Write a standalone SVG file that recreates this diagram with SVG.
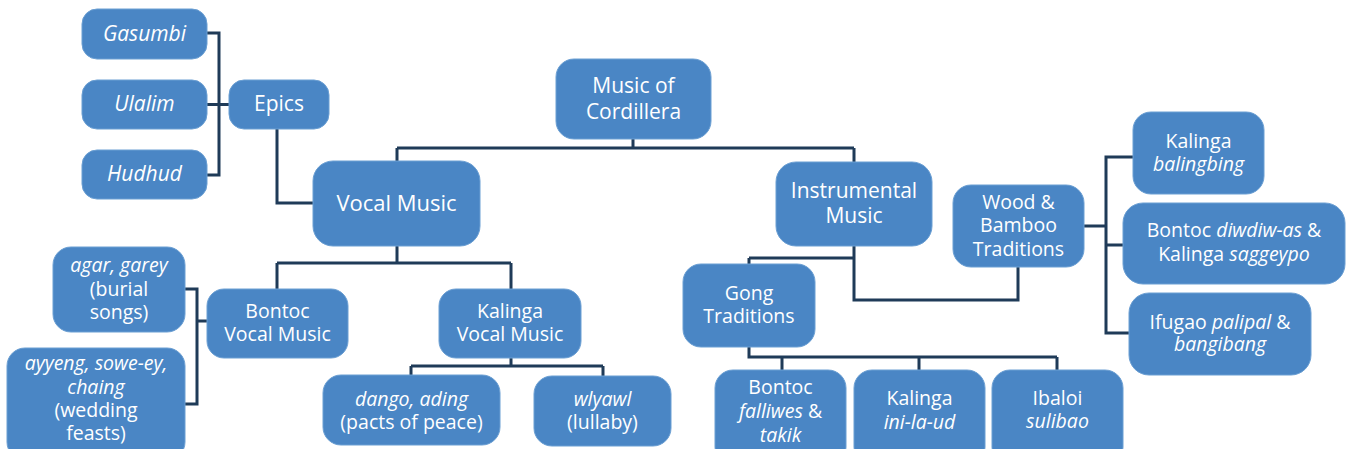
<svg xmlns="http://www.w3.org/2000/svg" width="1346" height="449" viewBox="0 0 1346 449">
<style>
.n{fill:#4a86c5;stroke:#6b9fd3;stroke-width:1}
.t{font-family:"Open Sans","Noto Sans","Liberation Sans",sans-serif;fill:#ffffff;text-anchor:middle;font-size:19.5px}
.l{font-size:21px}
.i{font-style:italic}
.c{fill:none;stroke:#1f3b58;stroke-width:3;stroke-linejoin:miter}
</style>
<rect width="1346" height="449" fill="#ffffff"/>
<g id="connectors" class="c">
<path d="M207,33 H219 V175 H207 M207,104.5 H229"/>
<path d="M277,129 V203 H313"/>
<path d="M633,139 V148 M397,148 H854 M397,148 V161 M854,148 V162"/>
<path d="M397,246 V263 M277,263 H511 M277,263 V289 M511,263 V289"/>
<path d="M185,289 H197 V404 H185 M197,321 H207"/>
<path d="M511,358 V366 M411,366 H603 M411,366 V375 M603,366 V376"/>
<path d="M854,246 V300 H1018 V267 M749,258 H854 M749,258 V264"/>
<path d="M749,347 V357 H1057 M782,357 V370 M919,357 V370 M1057,357 V370"/>
<path d="M1084,226 H1106 M1133,157 H1106 V333 H1129 M1106,245 H1123"/>
</g>
<g id="gasumbi"><rect class="n" x="82" y="9" width="125" height="50" rx="15"/><text class="t l i" x="144.5" y="41">Gasumbi</text></g>
<g id="ulalim"><rect class="n" x="82" y="80" width="125" height="49" rx="15"/><text class="t l i" x="144.5" y="111">Ulalim</text></g>
<g id="hudhud"><rect class="n" x="82" y="150" width="125" height="49" rx="15"/><text class="t l i" x="144.5" y="181">Hudhud</text></g>
<g id="epics"><rect class="n" x="229" y="80" width="100" height="49" rx="15"/><text class="t l" x="279" y="111">Epics</text></g>
<g id="root"><rect class="n" x="556" y="59" width="155" height="80" rx="18"/><text class="t l" x="633.5" y="93">Music of<tspan x="633.5" y="118.5">Cordillera</tspan></text></g>
<g id="vocal"><rect class="n" x="313" y="161" width="167" height="85" rx="20"/><text class="t" style="font-size:22px" x="396.5" y="211">Vocal Music</text></g>
<g id="instrumental"><rect class="n" x="776" y="162" width="156" height="84" rx="20"/><text class="t l" x="854" y="197.5">Instrumental<tspan x="854" y="223">Music</tspan></text></g>
<g id="agar"><rect class="n" x="53" y="247" width="132" height="85" rx="18"/><text class="t" x="119" y="272"><tspan class="i">agar, garey</tspan><tspan x="119" y="295.5">(burial</tspan><tspan x="119" y="319">songs)</tspan></text></g>
<g id="ayyeng"><rect class="n" x="7" y="348" width="178" height="112" rx="18"/><text class="t" x="96" y="370"><tspan class="i">ayyeng, sowe-ey,</tspan><tspan class="i" x="96" y="393.5">chaing</tspan><tspan x="96" y="417">(wedding</tspan><tspan x="96" y="440">feasts)</tspan></text></g>
<g id="bontoc-vocal"><rect class="n" x="207" y="289" width="141" height="69" rx="17"/><text class="t" x="277.5" y="317.5">Bontoc<tspan x="277.5" y="341">Vocal Music</tspan></text></g>
<g id="kalinga-vocal"><rect class="n" x="439" y="289" width="142" height="69" rx="17"/><text class="t" x="510" y="317.5">Kalinga<tspan x="510" y="341">Vocal Music</tspan></text></g>
<g id="dango"><rect class="n" x="323" y="375" width="177" height="70" rx="18"/><text class="t" x="411.5" y="405.5"><tspan class="i">dango, ading</tspan><tspan x="411.5" y="428.5">(pacts of peace)</tspan></text></g>
<g id="wlyawl"><rect class="n" x="534" y="376" width="137" height="70" rx="18"/><text class="t" x="602.5" y="405.5"><tspan class="i">wlyawl</tspan><tspan x="602.5" y="428.5">(lullaby)</tspan></text></g>
<g id="gong"><rect class="n" x="683" y="264" width="132" height="83" rx="18"/><text class="t" x="749" y="300">Gong<tspan x="749" y="323">Traditions</tspan></text></g>
<g id="bontoc-falliwes"><rect class="n" x="715" y="370" width="131" height="95" rx="18"/><text class="t" x="780.5" y="394">Bontoc<tspan x="780.5" y="417.5"><tspan class="i">falliwes</tspan> &amp;</tspan><tspan class="i" x="780.5" y="441.5">takik</tspan></text></g>
<g id="kalinga-inilaud"><rect class="n" x="854" y="370" width="131" height="95" rx="18"/><text class="t" x="919.5" y="405">Kalinga<tspan class="i" x="919.5" y="428.5">ini-la-ud</tspan></text></g>
<g id="ibaloi"><rect class="n" x="992" y="370" width="131" height="95" rx="18"/><text class="t" x="1057.5" y="405">Ibaloi<tspan class="i" x="1057.5" y="428">sulibao</tspan></text></g>
<g id="wood-bamboo"><rect class="n" x="953" y="185" width="131" height="82" rx="18"/><text class="t" x="1018.5" y="208.5">Wood &amp;<tspan x="1018.5" y="232">Bamboo</tspan><tspan x="1018.5" y="255.5">Traditions</tspan></text></g>
<g id="kalinga-balingbing"><rect class="n" x="1133" y="112" width="131" height="82" rx="18"/><text class="t" x="1198.5" y="147.5">Kalinga<tspan class="i" x="1198.5" y="171">balingbing</tspan></text></g>
<g id="bontoc-diwdiw"><rect class="n" x="1123" y="203" width="222" height="81" rx="20"/><text class="t" x="1234" y="237">Bontoc <tspan class="i">diwdiw-as</tspan> &amp;<tspan x="1234" y="261">Kalinga <tspan class="i">saggeypo</tspan></tspan></text></g>
<g id="ifugao"><rect class="n" x="1129" y="293" width="182" height="82" rx="20"/><text class="t" x="1220" y="328.5">Ifugao <tspan class="i">palipal</tspan> &amp;<tspan class="i" x="1220" y="351">bangibang</tspan></text></g>
</svg>
